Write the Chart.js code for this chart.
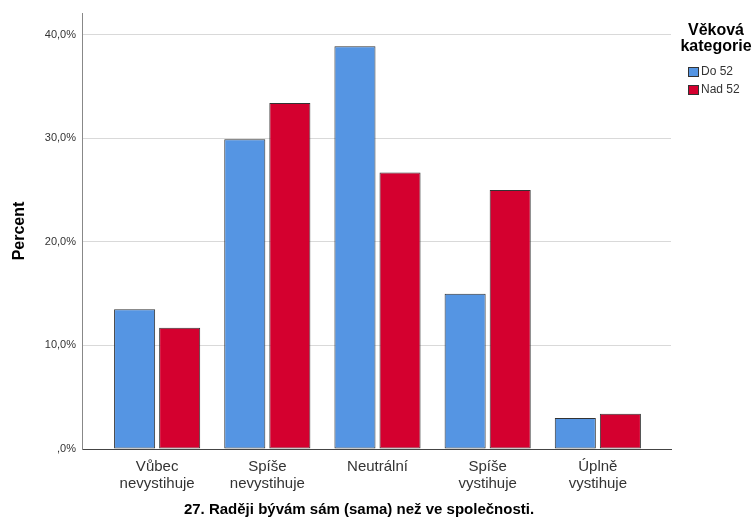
<!DOCTYPE html>
<html><head><meta charset="utf-8">
<script src="https://cdn.jsdelivr.net/npm/chart.js@4"></script>
<style>html,body{margin:0;padding:0;background:#fff}#wrap{width:756px;height:524px}</style>
</head><body><div id="wrap"><canvas id="c" width="756" height="524"></canvas></div>
<script>
const categories = [["Vůbec","nevystihuje"],["Spíše","nevystihuje"],["Neutrální"],["Spíše","vystihuje"],["Úplně","vystihuje"]];
const seriesNames = ["Do 52","Nad 52"];
const do52 = [13.5, 29.9, 38.9, 15.0, 3.0];
const nad52 = [11.7, 33.4, 26.7, 25.0, 3.4];
const yTicks = [0, 10, 20, 30, 40];
const yTickLabels = [",0%", "10,0%", "20,0%", "30,0%", "40,0%"];
const legendTitle = ["Věková", "kategorie"];
const xTitle = "27. Raději bývám sám (sama) než ve společnosti.";
const yTitle = "Percent";
const colors = ["#5595E3", "#D4002F"];

const FONT = "'Liberation Sans', Arial, sans-serif";

const textPlugin = {
  id: 'customTexts',
  afterDraw(chart) {
    const ctx = chart.ctx;
    ctx.save();
    // x-axis title
    ctx.fillStyle = '#000';
    ctx.font = "bold 15px " + FONT;
    ctx.textAlign = 'center';
    ctx.textBaseline = 'middle';
    ctx.fillText(xTitle, 359, 510);
    // legend
    ctx.font = "bold 16px " + FONT;
    ctx.fillText(legendTitle[0], 716, 31);
    ctx.fillText(legendTitle[1], 716, 47);
    ctx.font = "12px " + FONT;
    ctx.textAlign = 'left';
    chart.data.datasets.forEach((ds, i) => {
      const y = 67 + i * 18;
      ctx.fillStyle = ds.backgroundColor;
      ctx.fillRect(688, y, 10, 9);
      ctx.strokeStyle = '#333';
      ctx.lineWidth = 1;
      ctx.strokeRect(688.5, y + 0.5, 10, 9);
      ctx.fillStyle = '#333';
      ctx.fillText(ds.label, 701, y + 5);
    });
    ctx.restore();
  }
};

new Chart(document.getElementById('c'), {
  type: 'bar',
  data: {
    datasets: [
      { label: seriesNames[0], data: do52.map((v, i) => ({x: i, y: v})), backgroundColor: colors[0] },
      { label: seriesNames[1], data: nad52.map((v, i) => ({x: i, y: v})), backgroundColor: colors[1] }
    ]
  },
  options: {
    responsive: false,
    animation: false,
    devicePixelRatio: 1,
    layout: { padding: { top: 13, right: 85, left: 0, bottom: 0 } },
    datasets: {
      bar: {
        borderColor: '#333',
        borderWidth: 1,
        borderSkipped: false,
        categoryPercentage: 90 / 110,
        barPercentage: 41 / 45
      }
    },
    plugins: {
      legend: { display: false },
      tooltip: { enabled: false },
      title: { display: false }
    },
    scales: {
      x: {
        type: 'linear',
        offset: false,
        min: -0.682,
        max: 4.664,
        grid: { display: false, drawTicks: false, offset: false },
        border: { display: true, color: '#444', width: 1 },
        ticks: {
          stepSize: 1,
          includeBounds: false,
          autoSkip: false,
          maxRotation: 0,
          padding: 10,
          color: '#333',
          font: { family: FONT, size: 15, lineHeight: 1.1 },
          callback: (v) => Number.isInteger(v) && categories[v] ? categories[v] : ''
        },
        title: { display: false },
        afterFit: (s) => { s.height = 75; }
      },
      y: {
        min: 0,
        max: 42.1,
        grid: { color: '#d9d9d9', drawTicks: false, lineWidth: 1 },
        border: { display: true, color: '#888', width: 1 },
        ticks: {
          stepSize: 10,
          includeBounds: false,
          padding: 6,
          color: '#333',
          font: { family: FONT, size: 11 },
          callback: (v) => { const k = yTicks.indexOf(v); return k >= 0 ? yTickLabels[k] : ''; }
        },
        title: {
          display: true,
          text: yTitle,
          color: '#000',
          font: { family: FONT, size: 16, weight: 'bold', lineHeight: 1.2 },
          padding: { top: 10, bottom: 0 }
        },
        afterFit: (s) => { s.width = 82; }
      }
    }
  },
  plugins: [textPlugin]
});
</script>
</body></html>
